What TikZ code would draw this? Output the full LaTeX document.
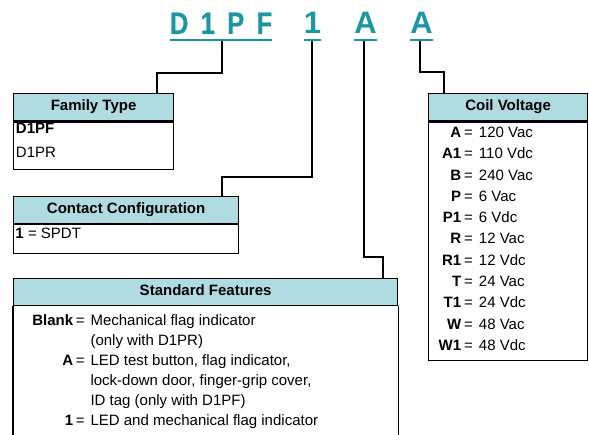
\documentclass[tikz,border=0pt]{standalone}
\usepackage{fontspec}
\setmainfont{Liberation Sans}
\newfontfamily\condfont{Liberation Sans}[FakeStretch=0.82,LetterSpace=40,FakeBold=0.6]
\definecolor{teal1}{RGB}{27,150,163}
\definecolor{hdrfill}{RGB}{176,220,225}
\begin{document}
\begin{tikzpicture}[x=1pt,y=-1pt,
  hdr/.style={draw=black, line width=1.2pt, fill=hdrfill, anchor=north west, inner sep=0pt,
    minimum height=27pt, text height=11pt, text depth=4pt, font=\fontsize{15}{18}\selectfont\bfseries},
  bodybox/.style={draw=black, line width=1.2pt, anchor=north west, inner sep=0pt},
  boxline/.style={draw=black, line width=1.2pt},
  conn/.style={draw=black, line width=2pt},
  uline/.style={draw=teal1, line width=1.8pt},
  bodytext/.style={anchor=base west, inner sep=0pt, font=\fontsize{15}{18}\selectfont},
  ttl/.style={text=teal1, inner sep=0pt, anchor=base, font=\fontsize{31}{31}\selectfont\bfseries}]
\useasboundingbox (0,0) rectangle (589,435);

% title code
\node[ttl, anchor=base west, font=\fontsize{31}{31}\condfont\bfseries] (tfam) at (169.8,34) {D1PF};
\node[ttl] (tcon) at (312.5,34) {1};
\node[ttl] (tstd) at (365.5,34) {A};
\node[ttl] (tcoil) at (421.5,34) {A};
\draw[uline] (170,40.2) -- (272,40.2);
\draw[uline] (304,40.2) -- (321,40.2);
\draw[uline] (354,40.2) -- (377,40.2);
\draw[uline] (410,40.2) -- (433,40.2);

\coordinate (c1) at (221.7,41);
\coordinate (c2) at (311.7,41);
\coordinate (c3) at (363.5,41);
\coordinate (c4) at (420,41);
\coordinate (k1) at (157,73);
\coordinate (k2) at (222,177);
\coordinate (k3) at (383,257);
\coordinate (k4) at (444,72);

% Family Type
\node[hdr, minimum width=160pt] (famh) at (13,93.3) {Family Type};
\node[bodybox, minimum width=160pt, minimum height=47.5pt] (famb) at (famh.south west) {};
\node[bodytext, font=\fontsize{15}{23.3}\selectfont] (famt) at (15.8,134)
  {\begin{tabular}[t]{@{}l@{}}\textbf{D1PF}\\D1PR\end{tabular}};

% Contact Configuration
\node[hdr, minimum width=225pt] (conh) at (13,196) {Contact Configuration};
\node[bodybox, minimum width=225pt, minimum height=28.5pt] (conb) at (conh.south west) {};
\node[bodytext] (cont) at (15.3,238.3) {\textbf{1} = SPDT};

% Coil Voltage
\node[hdr, minimum width=159pt] (coilh) at (428,93.3) {Coil Voltage};
\node[bodybox, minimum width=159pt, minimum height=238.5pt] (coilb) at (coilh.south west) {};
\node[bodytext, font=\fontsize{15}{21.3}\selectfont] (coilt) at (438.5,137.5)
  {\begin{tabular}[t]{@{}r@{\hspace{3pt}}c@{\hspace{6pt}}l@{}}
   \textbf{A} & = & 120 Vac\\
   \textbf{A1} & = & 110 Vdc\\
   \textbf{B} & = & 240 Vac\\
   \textbf{P} & = & 6 Vac\\
   \textbf{P1} & = & 6 Vdc\\
   \textbf{R} & = & 12 Vac\\
   \textbf{R1} & = & 12 Vdc\\
   \textbf{T} & = & 24 Vac\\
   \textbf{T1} & = & 24 Vdc\\
   \textbf{W} & = & 48 Vac\\
   \textbf{W1} & = & 48 Vdc
  \end{tabular}};

% Standard Features
\node[hdr, minimum width=384pt] (feath) at (13,278.3) {Standard Features};
\draw[boxline] (feath.south west) -- (feath.south west |- 0,437);
\draw[boxline] (feath.south east) -- (feath.south east |- 0,437);
\node[bodytext, font=\fontsize{15}{20}\selectfont] (featt) at (32.2,326)
  {\begin{tabular}[t]{@{}r@{\hspace{2.5pt}}c@{\hspace{6pt}}l@{}}
   \textbf{Blank} & = & Mechanical flag indicator\\
    & & (only with D1PR)\\
   \textbf{A} & = & LED test button, flag indicator,\\
    & & lock-down door, finger-grip cover,\\
    & & ID tag (only with D1PF)\\
   \textbf{1} & = & LED and mechanical flag indicator
  \end{tabular}};

% connectors
\draw[conn] (c1) |- (k1) -- (k1 |- famh.north);
\draw[conn] (c2) |- (k2) -- (k2 |- conh.north);
\draw[conn] (c3) |- (k3) -- (k3 |- feath.north);
\draw[conn] (c4) |- (k4) -- (k4 |- coilh.north);
\end{tikzpicture}
\end{document}
